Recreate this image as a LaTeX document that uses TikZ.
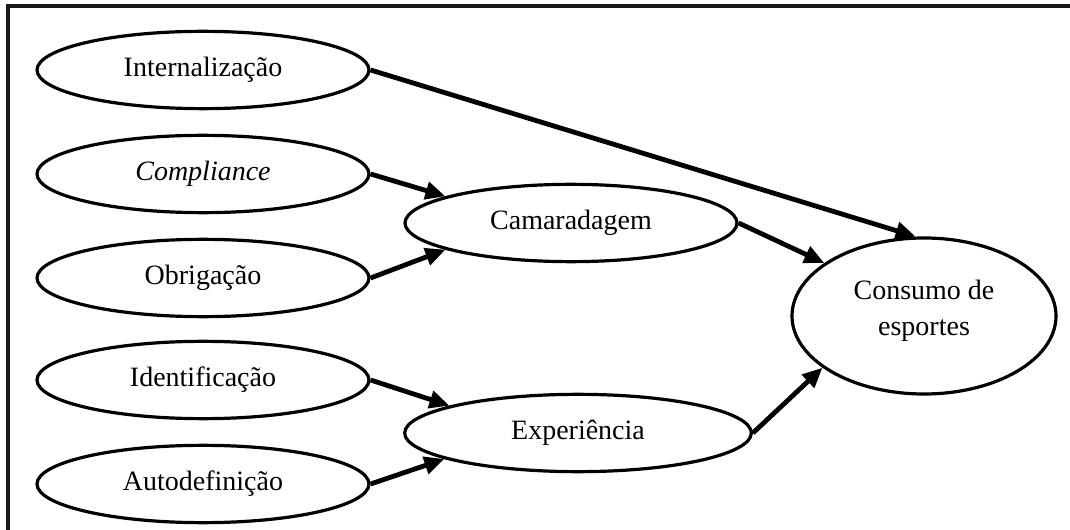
\documentclass[tikz,border=0pt]{standalone}
\usepackage{fontspec}
\setmainfont{Liberation Serif}
\usetikzlibrary{shapes.geometric,arrows.meta}
\begin{document}
\begin{tikzpicture}[x=0.75pt,y=-0.75pt,
  oval/.style={draw, ellipse, line width=2.4pt, inner sep=0pt,
    minimum width=249pt, minimum height=58pt,
    font=\fontsize{21}{27}\selectfont, align=center},
  arr/.style={line width=3.6pt, -{Triangle[length=15pt,width=13pt]}},
  frame/.style={line width=2.4pt, draw=black!90}]
\useasboundingbox (0,0) rectangle (1070,530);
\draw[frame] (1070,6) -- (8,6) -- (8,530);
\node[oval] (int) at (203,70) {Internalização};
\node[oval] (comp) at (203,174) {\itshape Compliance};
\node[oval] (obr) at (203,278) {Obrigação};
\node[oval] (ide) at (203,380) {Identificação};
\node[oval] (aut) at (203,484) {Autodefinição};
\node[oval] (cam) at (571,223) {Camaradagem};
\node[oval, minimum width=260pt] (exp) at (578,433) {Experiência};
\node[oval, minimum width=198pt, minimum height=117pt] (cons) at (924,316) {Consumo de\\esportes\\[-14pt]};
\draw[arr] (int.east) -- (cons.96);
\draw[arr] (comp.east) -- (cam.168);
\draw[arr] (obr.east) -- (cam.192);
\draw[arr] (cam.east) -- (cons.152);
\draw[arr] (ide.east) -- (exp.168);
\draw[arr] (aut.east) -- (exp.191);
\draw[arr] (exp.east) -- (cons.207);
\end{tikzpicture}
\end{document}
